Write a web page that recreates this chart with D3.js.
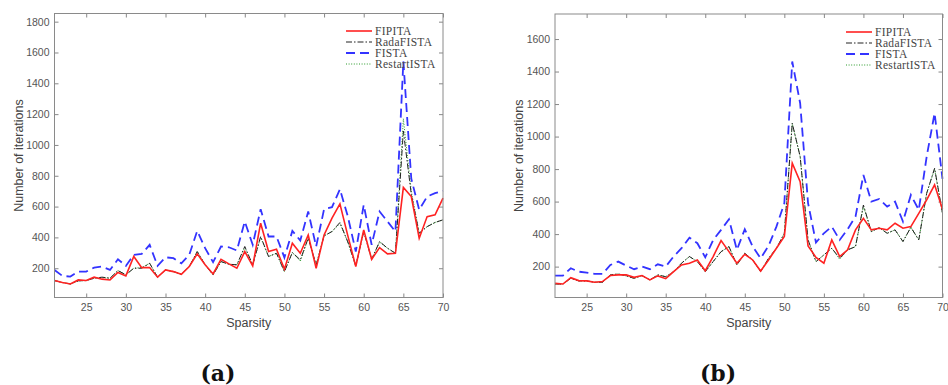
<!DOCTYPE html>
<meta charset="utf-8">
<style>
    body { margin: 0; background: #fff; }
    .tick text { font-family: "Liberation Sans", Arial, sans-serif; font-size: 10.5px; fill: #555; }
    .tick line { stroke: #888; }
    .axis path { display: none; }
    .box { fill: none; stroke: #8a8a8a; stroke-width: 1; }
    .alabel { font-family: "Liberation Sans", Arial, sans-serif; font-size: 12.5px; fill: #444; }
    .legend text { font-family: "Liberation Serif", "Times New Roman", serif; font-size: 11.5px; fill: #444; letter-spacing: 0.3px; }
    .caption { font-family: "DejaVu Serif", serif; font-weight: bold; font-size: 22px; fill: #111; }
</style>
<body></body>
<script src="https://cdn.jsdelivr.net/npm/d3@7"></script>
<script>

// sparsity levels on the x axis
var sparsity = [21,22,23,24,25,26,27,28,29,30,31,32,33,34,35,36,37,38,39,40,
                41,42,43,44,45,46,47,48,49,50,51,52,53,54,55,56,57,58,59,60,
                61,62,63,64,65,66,67,68,69,70];

var seriesNames = ["FIPITA", "RadaFISTA", "FISTA", "RestartISTA"];

// (a) number of iterations
var fipitaA = [120,107,98,124,120,142,129,124,172,150,276,204,204,142,189,178,161,211,293,222,
               163,258,228,200,308,215,492,308,323,194,362,297,416,200,416,525,618,410,211,449,
               258,334,293,297,724,665,395,535,546,655];
var radaA   = [120,107,98,118,120,135,142,135,185,157,200,200,232,142,189,178,161,211,308,222,
               157,243,226,222,341,222,406,276,297,178,302,254,395,222,410,438,497,370,215,438,
               258,373,330,297,1090,680,427,470,497,514];
var fistaA  = [189,150,146,178,178,204,211,189,258,215,287,293,352,215,271,265,232,287,442,330,
               239,341,336,315,503,352,583,406,406,269,442,380,568,341,583,596,713,535,308,611,
               352,568,503,438,1542,780,579,665,687,702];
var restartA= [120,107,98,118,120,135,140,135,185,157,200,205,232,142,189,178,161,211,310,222,
               157,243,226,222,335,222,400,276,297,178,302,245,395,222,410,438,490,370,215,438,
               258,370,330,297,1170,700,427,470,497,514];

// (b) number of iterations
var fipitaB = [97,93,132,114,112,104,108,145,149,149,134,145,118,143,126,169,210,221,241,175,
               262,360,292,221,276,241,173,241,313,385,836,723,327,257,221,364,262,303,426,497,
               426,436,426,467,436,446,528,610,703,553];
var radaB   = [93,93,128,112,112,104,104,149,155,143,128,145,118,149,138,169,221,262,231,169,
               231,292,323,210,282,241,169,251,313,405,1082,877,364,231,272,313,251,303,323,579,
               415,440,405,426,354,442,364,651,805,528];
var fistaB  = [145,145,190,169,163,155,155,210,231,206,184,200,184,214,200,262,313,378,344,257,
               364,426,491,303,430,323,251,327,446,590,1462,1205,590,348,405,446,364,430,508,764,
               600,616,569,600,477,641,549,877,1144,740];
var restartB= [93,93,128,112,112,104,104,149,155,143,128,145,118,149,138,169,221,262,231,169,
               231,292,323,210,282,241,169,251,313,405,1080,877,364,231,272,313,245,303,323,570,
               415,440,405,426,354,442,364,651,800,528];

var yTicksA = [200,400,600,800,1000,1200,1400,1600,1800];
var yTicksB = [200,400,600,800,1000,1200,1400,1600];
var xTicks  = [25,30,35,40,45,50,55,60,65,70];

var styles = [
    {color: "#f22", width: 1.6, dash: null},
    {color: "#222", width: 1, dash: "6,2,1.5,2"},
    {color: "#33f", width: 1.8, dash: "9,5"},
    {color: "#2a9a2a", width: 1, dash: "1,1.6"}
];

var svg = d3.select("body").append("svg")
    .attr("width", 948)
    .attr("height", 385);

function drawChart(opt) {
    var g = svg.append("g");
    var x = d3.scaleLinear().domain([21, 70]).range([opt.left, opt.right]);
    var y = d3.scaleLinear().domain(opt.yDomain).range([opt.bottom, opt.top]);

    // ticks inside, MATLAB-like, mirrored on all four sides
    g.append("g").attr("class", "axis")
        .attr("transform", "translate(0," + opt.bottom + ")")
        .call(d3.axisBottom(x).tickValues(xTicks).tickSizeInner(-4).tickPadding(6).tickFormat(d3.format("d")));
    g.append("g").attr("class", "axis")
        .attr("transform", "translate(0," + opt.top + ")")
        .call(d3.axisTop(x).tickValues(xTicks).tickSizeInner(-4).tickFormat(""));
    g.append("g").attr("class", "axis")
        .attr("transform", "translate(" + opt.left + ",0)")
        .call(d3.axisLeft(y).tickValues(opt.yTicks).tickSizeInner(-4).tickPadding(5).tickFormat(d3.format("d")));
    g.append("g").attr("class", "axis")
        .attr("transform", "translate(" + opt.right + ",0)")
        .call(d3.axisRight(y).tickValues(opt.yTicks).tickSizeInner(-4).tickFormat(""));

    var line = d3.line()
        .x(function(d, i) { return x(sparsity[i]); })
        .y(function(d) { return y(d); });

    // draw order: FISTA first, then others on top
    [2, 3, 1, 0].forEach(function(k) {
        g.append("path")
            .datum(opt.series[k])
            .attr("fill", "none")
            .attr("stroke", styles[k].color)
            .attr("stroke-width", styles[k].width)
            .attr("stroke-dasharray", styles[k].dash)
            .attr("d", line);
    });

    g.append("rect").attr("class", "box")
        .attr("x", opt.left).attr("y", opt.top)
        .attr("width", opt.right - opt.left).attr("height", opt.bottom - opt.top);

    // legend
    var lg = g.append("g").attr("class", "legend");
    seriesNames.forEach(function(name, k) {
        var ly = opt.legendY + k * 11;
        lg.append("line")
            .attr("x1", opt.legendX).attr("x2", opt.legendX + 26)
            .attr("y1", ly).attr("y2", ly)
            .attr("stroke", styles[k].color)
            .attr("stroke-width", styles[k].width)
            .attr("stroke-dasharray", styles[k].dash);
        lg.append("text")
            .attr("x", opt.legendX + 29).attr("y", ly + 4)
            .text(name);
    });

    g.append("text").attr("class", "alabel")
        .attr("x", (opt.left + opt.right) / 2).attr("y", opt.bottom + 29)
        .attr("text-anchor", "middle")
        .text("Sparsity");
    g.append("text").attr("class", "alabel")
        .attr("transform", "translate(" + opt.ylabelX + "," + ((opt.top + opt.bottom) / 2) + ") rotate(-90)")
        .attr("text-anchor", "middle")
        .text("Number of iterations");

    g.append("text").attr("class", "caption")
        .attr("x", opt.captionX).attr("y", 381)
        .attr("text-anchor", "middle")
        .text(opt.caption);
}

drawChart({
    left: 54.5, right: 443, top: 13.5, bottom: 297.5,
    yDomain: [10, 1853], yTicks: yTicksA,
    series: [fipitaA, radaA, fistaA, restartA],
    legendX: 346, legendY: 31, ylabelX: 23, captionX: 218, caption: "(a)"
});

drawChart({
    left: 555, right: 942.5, top: 14, bottom: 297.5,
    yDomain: [10, 1754], yTicks: yTicksB,
    series: [fipitaB, radaB, fistaB, restartB],
    legendX: 846, legendY: 32, ylabelX: 523, captionX: 718, caption: "(b)"
});

</script>
